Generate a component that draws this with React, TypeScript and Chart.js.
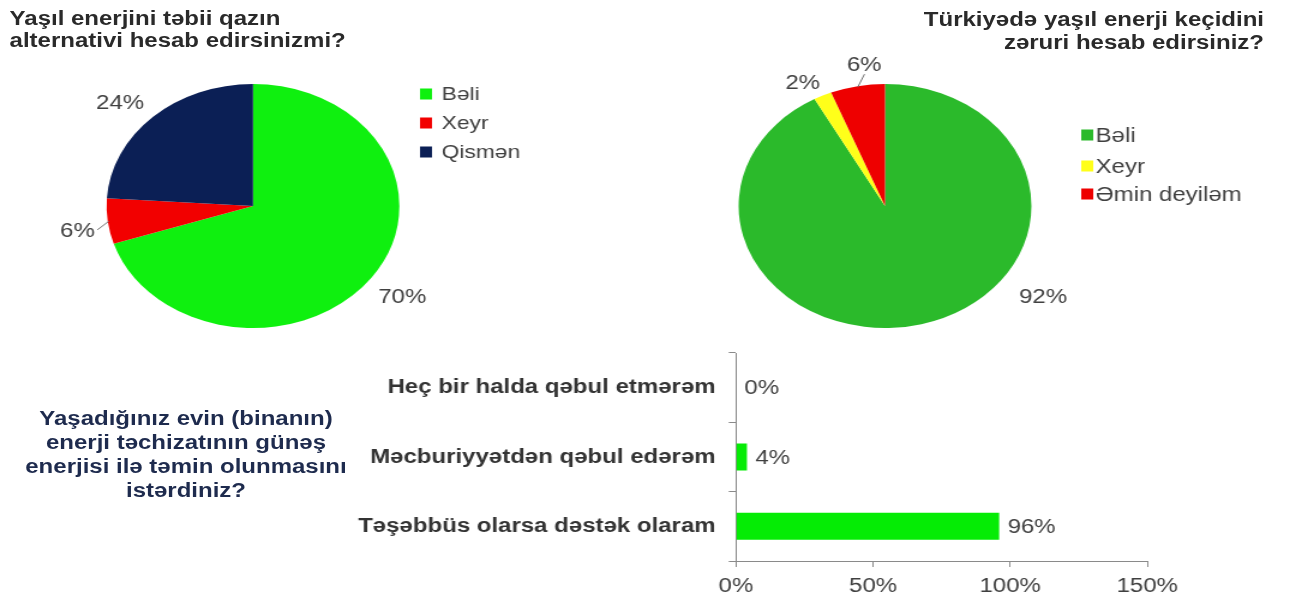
import React, { useEffect, useRef } from "react";
import { Chart, registerables } from "chart.js";

Chart.register(...registerables);

const FONT = "'Liberation Sans', Arial, Helvetica, sans-serif";
const SX = 1.2; // horizontal stretch of the whole picture

// ---------- data ----------
const pie1Title = ["Yaşıl enerjini təbii qazın", "alternativi hesab edirsinizmi?"];
const pie1Labels = ["Bəli", "Xeyr", "Qismən"];
const pie1Values = [70, 6, 24];
const pie1Colors = ["#0FF00F", "#F20000", "#0B1F55"];

const pie2Title = ["Türkiyədə yaşıl enerji keçidini", "zəruri hesab edirsiniz?"];
const pie2Labels = ["Bəli", "Xeyr", "Əmin deyiləm"];
const pie2Values = [92, 2, 6];
const pie2Colors = ["#2BBA2B", "#FFFF1A", "#EE0000"];

const barQuestion = [
  "Yaşadığınız evin (binanın)",
  "enerji təchizatının günəş",
  "enerjisi ilə təmin olunmasını",
  "istərdiniz?",
];
const barCategories = [
  "Heç bir halda qəbul etmərəm",
  "Məcburiyyətdən qəbul edərəm",
  "Təşəbbüs olarsa dəstək olaram",
];
const barValues = [0, 4, 96];
const barTicks = [0, 50, 100, 150];

// ---------- plugins ----------
const pieDecor = {
  id: "pieDecor",
  afterDatasetsDraw(chart: any, _args: any, opts: any) {
    const ctx = chart.ctx;
    const meta = chart.getDatasetMeta(0);
    const ds = chart.data.datasets[0];
    ctx.save();
    ctx.font = `20px ${FONT}`;
    ctx.textAlign = "center";
    ctx.textBaseline = "middle";
    meta.data.forEach((arc: any, i: number) => {
      const p = arc.getProps(["x", "y", "startAngle", "endAngle", "outerRadius"], true);
      const frac = opts.labelPos?.[i] ?? 0.5;
      const a = p.startAngle + (p.endAngle - p.startAngle) * frac;
      const d = p.outerRadius * (opts.labelDist?.[i] ?? 1.25);
      const lx = p.x + Math.cos(a) * d;
      const ly = p.y + Math.sin(a) * d;
      ctx.fillStyle = "#404040";
      ctx.fillText(ds.data[i] + "%", lx, ly + 1);
      if (opts.leaders?.[i]) {
        const am = (p.startAngle + p.endAngle) / 2;
        const sx = p.x + Math.cos(am) * (p.outerRadius - 1);
        const sy = p.y + Math.sin(am) * (p.outerRadius - 1);
        const ex = lx - Math.cos(a) * (Math.abs(Math.cos(a)) * 17);
        const ey = ly - Math.sin(a) * (Math.abs(Math.sin(a)) * 10);
        ctx.strokeStyle = "#707070";
        ctx.lineWidth = 1;
        ctx.beginPath();
        ctx.moveTo(sx, sy);
        ctx.lineTo(ex, ey);
        ctx.stroke();
      }
    });
    const lg = opts.legend;
    if (lg) {
      ctx.textAlign = "left";
      ctx.font = `${lg.size}px ${FONT}`;
      chart.data.labels.forEach((lab: string, i: number) => {
        const y = lg.ys[i];
        ctx.fillStyle = ds.backgroundColor[i];
        ctx.fillRect(lg.x, y - 5.5, 10, 11);
        ctx.fillStyle = "#404040";
        ctx.fillText(lab, lg.textX, y + 1);
      });
    }
    ctx.restore();
  },
};

const barLabels = {
  id: "barLabels",
  afterDatasetsDraw(chart: any) {
    const ctx = chart.ctx;
    const meta = chart.getDatasetMeta(0);
    const ds = chart.data.datasets[0];
    ctx.save();
    ctx.font = `20px ${FONT}`;
    ctx.fillStyle = "#404040";
    ctx.textAlign = "left";
    ctx.textBaseline = "middle";
    meta.data.forEach((bar: any, i: number) => {
      ctx.fillText(ds.data[i] + "%", bar.x + 7, bar.y + 1);
    });
    ctx.restore();
  },
};

// ---------- components ----------
function PieChart(props: {
  labels: string[];
  values: number[];
  colors: string[];
  width: number;
  height: number;
  padding: any;
  decor: any;
}) {
  const ref = useRef<HTMLCanvasElement | null>(null);
  useEffect(() => {
    if (!ref.current) return;
    const chart = new Chart(ref.current, {
      type: "pie",
      data: {
        labels: props.labels,
        datasets: [
          {
            data: props.values,
            backgroundColor: props.colors,
            borderWidth: 0,
          },
        ],
      },
      options: {
        responsive: false,
        animation: false,
        devicePixelRatio: 1,
        layout: { padding: props.padding },
        plugins: {
          legend: { display: false },
          tooltip: { enabled: false },
          pieDecor: props.decor,
        } as any,
      },
      plugins: [pieDecor],
    });
    return () => chart.destroy();
  }, []);
  return <canvas ref={ref} width={props.width} height={props.height} />;
}

function BarChart() {
  const ref = useRef<HTMLCanvasElement | null>(null);
  useEffect(() => {
    if (!ref.current) return;
    const chart = new Chart(ref.current, {
      type: "bar",
      data: {
        labels: barCategories,
        datasets: [
          {
            data: barValues,
            backgroundColor: "#05EC05",
            barPercentage: 0.39,
            categoryPercentage: 1,
          },
        ],
      },
      options: {
        indexAxis: "y",
        responsive: false,
        animation: false,
        devicePixelRatio: 1,
        layout: { padding: { left: 0, top: 15, right: 64, bottom: 0 } },
        plugins: { legend: { display: false }, tooltip: { enabled: false } },
        scales: {
          x: {
            min: barTicks[0],
            max: barTicks[barTicks.length - 1],
            afterBuildTicks: (s: any) => {
              s.ticks = barTicks.map((v) => ({ value: v }));
            },
            ticks: {
              callback: (v: any) => v + "%",
              color: "#404040",
              font: { family: FONT, size: 20 },
              padding: 7,
              maxRotation: 0,
            },
            grid: { drawOnChartArea: false, tickLength: 6, color: "#8a8a8a" },
            border: { color: "#8a8a8a" },
            afterFit: (s: any) => {
              s.height = 36;
            },
          },
          y: {
            ticks: {
              color: "#333333",
              font: { family: FONT, size: 20, weight: "bold" },
              padding: 11,
            },
            grid: { drawOnChartArea: false, tickLength: 6, color: "#8a8a8a", offset: true },
            border: { color: "#8a8a8a" },
            afterFit: (s: any) => {
              s.width = 353.3;
            },
          },
        },
      } as any,
      plugins: [barLabels],
    });
    return () => chart.destroy();
  }, []);
  return <canvas ref={ref} width={760} height={267} />;
}

export default function App() {
  const titleStyle: React.CSSProperties = {
    position: "absolute",
    fontFamily: FONT,
    fontWeight: "bold",
    fontSize: 20,
    lineHeight: "22px",
    color: "#2a2a2a",
    whiteSpace: "nowrap",
  };
  return (
    <div
      style={{
        position: "absolute",
        left: 0,
        top: 0,
        width: 1292 / SX,
        height: 597,
        transform: `scaleX(${SX})`,
        transformOrigin: "0 0",
        background: "#ffffff",
        overflow: "hidden",
      }}
    >
      <div style={{ position: "absolute", left: 0, top: 0 }}>
        <PieChart
          labels={pie1Labels}
          values={pie1Values}
          colors={pie1Colors}
          width={540}
          height={345}
          padding={{ left: 88.8, top: 84, right: 207.2, bottom: 17 }}
          decor={{
            labelPos: [0.5, 0.4, 0.458],
            labelDist: [1.26, 1.215, 1.245],
            leaders: [false, true, false],
            legend: { x: 350, textX: 368, ys: [94, 123, 152], size: 19 },
          }}
        />
      </div>
      <div style={{ position: "absolute", left: 545, top: 0 }}>
        <PieChart
          labels={pie2Labels}
          values={pie2Values}
          colors={pie2Colors}
          width={532}
          height={345}
          padding={{ left: 70.5, top: 83, right: 217.5, bottom: 16 }}
          decor={{
            labelPos: [0.376, -0.05, 0.676],
            labelDist: [1.31, 1.155, 1.17],
            leaders: [false, false, true],
            legend: { x: 356, textX: 368, ys: [135, 166, 194], size: 20 },
          }}
        />
      </div>
      <div style={{ position: "absolute", left: 260, top: 330 }}>
        <BarChart />
      </div>
      <div style={{ ...titleStyle, left: 8, top: 7 }}>
        {pie1Title.map((t, i) => (
          <div key={i}>{t}</div>
        ))}
      </div>
      <div
        style={{
          ...titleStyle,
          right: 1292 / SX - 1264 / SX,
          top: 7.5,
          lineHeight: "23px",
          textAlign: "right",
        }}
      >
        {pie2Title.map((t, i) => (
          <div key={i}>{t}</div>
        ))}
      </div>
      <div
        style={{
          ...titleStyle,
          left: 155 - 150,
          width: 300,
          top: 406,
          lineHeight: "24px",
          textAlign: "center",
          color: "#1E2B4E",
        }}
      >
        {barQuestion.map((t, i) => (
          <div key={i}>{t}</div>
        ))}
      </div>
    </div>
  );
}
